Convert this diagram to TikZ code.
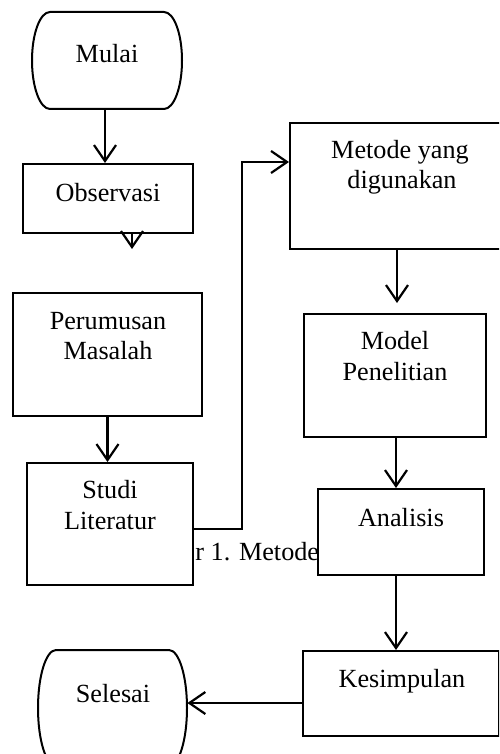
\documentclass[tikz,border=0pt]{standalone}
\usepackage{fontspec}
\setmainfont{Liberation Serif}
\usetikzlibrary{arrows.meta,fit}
\begin{document}
\begin{tikzpicture}[x=0.5pt,y=-0.5pt,
  box/.style={draw,line width=1pt,fill=white,inner sep=0pt},
  area/.style={inner sep=0pt},
  term/.style={draw,line width=1pt,fill=white},
  txt/.style={font=\fontsize{13.1pt}{15pt}\selectfont,anchor=base,inner sep=0pt},
  arr/.style={line width=1.1pt,-{Straight Barb[length=8pt,width=11pt]}}]
\useasboundingbox (0,0) rectangle (499,754);
\clip (0,0) rectangle (499,754);
% partly hidden caption
\node[txt,anchor=base west] (cap) at (195,560) {r 1. Metode};
% terminals
\node[area,fit={(32,12)(182,109)}] (mulai) {};
\draw[term] (50,12) -- (164,12)
  .. controls (174,12) and (182,33.7) .. (182,60.5)
  .. controls (182,87.3) and (174,109) .. (164,109) -- (50,109)
  .. controls (40,109) and (32,87.3) .. (32,60.5)
  .. controls (32,33.7) and (40,12) .. (50,12) -- cycle;
\node[txt] (tmulai) at (107,63) {Mulai};
\node[area,fit={(38,650)(187,766)}] (sel) {};
\draw[term] (56,650) -- (169,650)
  .. controls (179,650) and (187,676) .. (187,708)
  .. controls (187,740) and (179,766) .. (169,766) -- (56,766)
  .. controls (46,766) and (38,740) .. (38,708)
  .. controls (38,676) and (46,650) .. (56,650) -- cycle;
\node[txt] (tsel) at (113,702) {Selesai};
% boxes
\node[box,fit={(23,164)(193,233)}] (obs) {};
\node[txt] (tobs) at (108,202) {Observasi};
\node[box,fit={(13,293)(202,416)}] (per) {};
\node[txt] (tper1) at (108,329) {Perumusan};
\node[txt] (tper2) at (108,359) {Masalah};
\node[box,fit={(27,463)(193,585)}] (stu) {};
\node[txt] (tstu1) at (110,498) {Studi};
\node[txt] (tstu2) at (110,529) {Literatur};
\node[box,fit={(290,123)(512,249)}] (met) {};
\node[txt] (tmet1) at (400,159) {Metode yang};
\node[txt] (tmet2) at (402,189) {digunakan};
\node[box,fit={(304,314)(486,437)}] (mod) {};
\node[txt] (tmod1) at (395,349) {Model};
\node[txt] (tmod2) at (395,380) {Penelitian};
\node[box,fit={(318,489)(484,575)}] (ana) {};
\node[txt] (tana) at (401,526) {Analisis};
\node[box,fit={(303,651)(499,736)}] (kes) {};
\node[txt] (tkes) at (402,687) {Kesimpulan};
% connectors
\coordinate (obsend) at (132,249);
\coordinate (bend) at (242,162);
\draw[arr] (mulai.south -| 105,0) -- (obs.north -| 105,0);
\draw[arr] (obs.south -| obsend) -- (obsend);
\draw[arr] (per.south) -- (stu.north -| per.south);
\draw[arr] (stu.east |- 0,529) -- (bend |- 0,529) -- (bend) -- (met.west |- bend);
\draw[arr,shorten >=5pt] (met.south -| 397,0) -- (mod.north -| 397,0);
\draw[arr] (mod.south -| 396,0) -- (ana.north -| 396,0);
\draw[arr] (ana.south -| 396,0) -- (kes.north -| 396,0);
\draw[arr] (kes.west |- 0,703) -- (sel.east |- 0,703);
\end{tikzpicture}
\end{document}
